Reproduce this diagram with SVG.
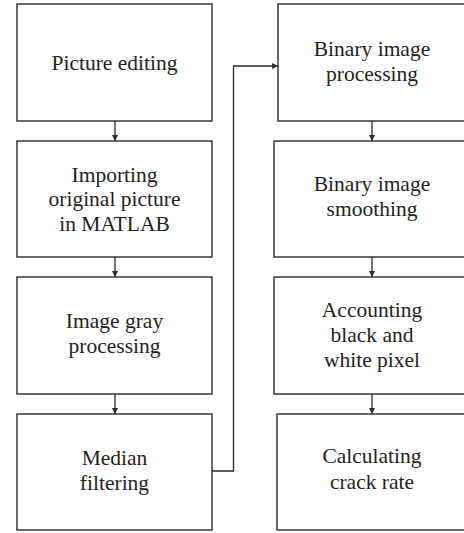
<svg xmlns="http://www.w3.org/2000/svg" width="464" height="533" viewBox="0 0 464 533">
<style>
.box{fill:#fff;stroke:#2b2b2b;stroke-width:1.4}
.t{font-family:"Liberation Serif","Times New Roman",serif;font-size:21.5px;fill:#231f20;text-anchor:middle}
.c{fill:none;stroke:#2b2b2b;stroke-width:1.3}
</style>
<defs>
<marker id="ah" viewBox="0 0 10 10" refX="10" refY="5" markerWidth="6" markerHeight="6" orient="auto" markerUnits="userSpaceOnUse">
<path d="M0,0 L10,5 L0,10 z" fill="#2b2b2b"/>
</marker>
</defs>
<rect width="464" height="533" fill="#fff"/>
<g id="n1"><rect class="box" x="17" y="4" width="195" height="117"/><text class="t" x="114.5" y="69.5">Picture editing</text></g>
<g id="n2"><rect class="box" x="17" y="141" width="195" height="116"/><text class="t" x="114.5" y="181.5">Importing</text><text class="t" x="114.5" y="206">original picture</text><text class="t" x="114.5" y="230.5">in MATLAB</text></g>
<g id="n3"><rect class="box" x="17" y="277" width="195" height="117"/><text class="t" x="114.5" y="328">Image gray</text><text class="t" x="114.5" y="353">processing</text></g>
<g id="n4"><rect class="box" x="17" y="414" width="195" height="116"/><text class="t" x="114.5" y="464.5">Median</text><text class="t" x="114.5" y="489.5">filtering</text></g>
<g id="n5"><rect class="box" x="278" y="4" width="190" height="117"/><text class="t" x="372" y="55.5">Binary image</text><text class="t" x="372" y="80.5">processing</text></g>
<g id="n6"><rect class="box" x="274" y="141" width="194" height="116"/><text class="t" x="372" y="191">Binary image</text><text class="t" x="372" y="216">smoothing</text></g>
<g id="n7"><rect class="box" x="274" y="277" width="194" height="117"/><text class="t" x="372" y="316.5">Accounting</text><text class="t" x="372" y="341.5">black and</text><text class="t" x="372" y="366.5">white pixel</text></g>
<g id="n8"><rect class="box" x="277" y="414" width="191" height="116"/><text class="t" x="372" y="463">Calculating</text><text class="t" x="372" y="489">crack rate</text></g>
<g id="connectors">
<line class="c" x1="115" y1="121" x2="115" y2="141" marker-end="url(#ah)"/>
<line class="c" x1="115" y1="257" x2="115" y2="277" marker-end="url(#ah)"/>
<line class="c" x1="115" y1="394" x2="115" y2="414" marker-end="url(#ah)"/>
<polyline class="c" points="212,471 233.5,471 233.5,66 278,66" marker-end="url(#ah)"/>
<line class="c" x1="372" y1="121" x2="372" y2="141" marker-end="url(#ah)"/>
<line class="c" x1="372" y1="257" x2="372" y2="277" marker-end="url(#ah)"/>
<line class="c" x1="372" y1="394" x2="372" y2="414" marker-end="url(#ah)"/>
</g>
</svg>
